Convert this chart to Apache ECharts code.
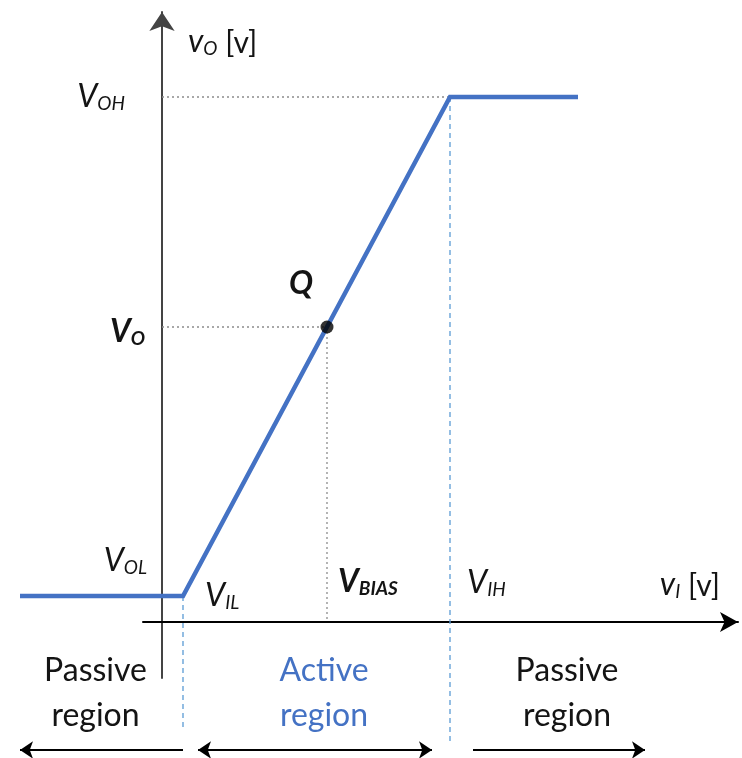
<!DOCTYPE html>
<html><head><meta charset="utf-8">
<script src="https://cdn.jsdelivr.net/npm/echarts@6/dist/echarts.min.js"></script>
<style>html,body{margin:0;background:#fff}#c{width:742px;height:758px}</style>
</head><body><div id="c"></div>
<script>
// Static transfer characteristic v_O(v_I) of an amplifier stage (volts)
const V_IL = 0.21, V_IH = 2.88;          // input thresholds
const V_OL = 0.26, V_OH = 5.25;          // output levels
const V_BIAS = 1.65, V_O = 2.95;         // operating point Q
const inputSweep = [-1.42, V_IL, V_IH, 4.16];
const outputLevels = [V_OL, V_OL, V_OH, V_OH];
// extent of the region arrows under the axis
const regionArrowY = -1.28;
const regionSpans = [[V_IL, -1.42], [0.36, 2.70], [3.11, 4.83]];
const regionNames = ['Passive\nregion', 'Active\nregion', 'Passive\nregion'];

const BLUE = '#4472C4', LIGHT = '#5B9BD5', INK = '#141414';
const F = 'Lato, "Open Sans", sans-serif';

const chart = echarts.init(document.getElementById('c'));
chart.setOption({
  animation: false,
  grid: {left: 143, right: 4, top: 12, bottom: 80},
  xAxis: {type: 'value', min: -0.19, max: 5.76, splitLine: {show: false},
    axisTick: {show: false}, axisLabel: {show: false},
    axisLine: {onZero: true, symbol: ['none', 'arrow'], symbolSize: [15, 18],
      lineStyle: {color: '#000', width: 2}}},
  yAxis: {type: 'value', min: -0.56, max: 6.10, splitLine: {show: false},
    axisTick: {show: false}, axisLabel: {show: false},
    axisLine: {onZero: true, symbol: ['none', 'arrow'], symbolSize: [19, 19],
      lineStyle: {color: '#444', width: 2}}},
  series: [
    {type: 'line', name: 'guideOH', clip: false, symbol: 'none', silent: true,
      lineStyle: {color: '#8c8c8c', width: 1.3, type: [2, 3]},
      data: [[0, V_OH], [V_IH, V_OH]]},
    {type: 'line', name: 'guideQ', clip: false, symbol: 'none', silent: true,
      lineStyle: {color: '#8c8c8c', width: 1.3, type: [2, 3]},
      data: [[0, V_O], [V_BIAS, V_O], [V_BIAS, 0]]},
    {type: 'line', name: 'boundIL', clip: false, symbol: 'none', silent: true,
      lineStyle: {color: LIGHT, width: 1.3, type: [5, 4]},
      data: [[V_IL, V_OL], [V_IL, -1.08]]},
    {type: 'line', name: 'boundIH', clip: false, symbol: 'none', silent: true,
      lineStyle: {color: LIGHT, width: 1.3, type: [5, 4]},
      data: [[V_IH, V_OH], [V_IH, -1.20]]},
    {type: 'lines', name: 'vO', coordinateSystem: 'cartesian2d', polyline: true,
      clip: false, z: 5, silent: true,
      lineStyle: {color: BLUE, width: 4.5, opacity: 1, join: 'miter'},
      data: [{coords: inputSweep.map((x, i) => [x, outputLevels[i]])}]},
    {type: 'scatter', name: 'Q', clip: false, z: 6, symbolSize: 13,
      itemStyle: {color: '#000'}, data: [[V_BIAS, V_O]]},
    {type: 'lines', name: 'regions', coordinateSystem: 'cartesian2d', clip: false,
      silent: true, lineStyle: {color: '#000', width: 2, opacity: 1},
      data: [
        {coords: [[regionSpans[0][0], regionArrowY], [regionSpans[0][1], regionArrowY]], symbol: ['none', 'arrow']},
        {coords: [[regionSpans[1][0], regionArrowY], [regionSpans[1][1], regionArrowY]], symbol: ['arrow', 'arrow']},
        {coords: [[regionSpans[2][0], regionArrowY], [regionSpans[2][1], regionArrowY]], symbol: ['none', 'arrow']}
      ], symbolSize: [13, 13]}
  ]
});

const px = (x, y) => chart.convertToPixel({gridIndex: 0}, [x, y]);
const it = {fontFamily: F, fontStyle: 'italic', fill: INK, verticalAlign: 'bottom'};
const rich = {
  v: Object.assign({fontSize: 32}, it),
  s: Object.assign({fontSize: 19}, it),
  vb: Object.assign({fontSize: 32, fontWeight: 'bold'}, it),
  sb: Object.assign({fontSize: 19, fontWeight: 'bold'}, it),
  n: {fontFamily: F, fontSize: 30, fill: INK, verticalAlign: 'bottom'}
};
function label(text, p, align, dx, dy) {
  return {type: 'text', z: 10, style: {text, rich, x: p[0] + dx, y: p[1] + dy, align, verticalAlign: 'middle'}};
}
const graphics = [
  label('{v|v}{s|O}{n| [v]}', px(0, 6.1), 'left', 26, 30),
  label('{v|V}{s|OH}', px(0, V_OH), 'right', -37, 0),
  label('{vb|V}{sb|O}', px(0, V_O), 'right', -17, 5),
  label('{v|V}{s|OL}', px(0, V_OL), 'right', -15, -35),
  label('{vb|Q}', px(V_BIAS, V_O), 'center', -26, -43),
  label('{v|V}{s|IL}', px(V_IL, 0), 'left', 22, -26),
  label('{vb|V}{sb|BIAS}', px(V_BIAS, 0), 'left', 11, -40),
  label('{v|V}{s|IH}', px(V_IH, 0), 'left', 17, -39),
  label('{v|v}{s|I}{n| [v]}', px(5.76, 0), 'right', -18, -37)
];
const regionShift = [-6, 9, 8];
regionSpans.forEach((s, i) => {
  const c = px((s[0] + s[1]) / 2, regionArrowY);
  graphics.push({type: 'text', z: 10, style: {
    text: regionNames[i], x: c[0] + regionShift[i], y: c[1] - 57,
    align: 'center', verticalAlign: 'middle', fontFamily: F, fontSize: 32,
    lineHeight: 45, fill: i === 1 ? BLUE : INK}});
});
chart.setOption({graphic: graphics});
</script></body></html>
